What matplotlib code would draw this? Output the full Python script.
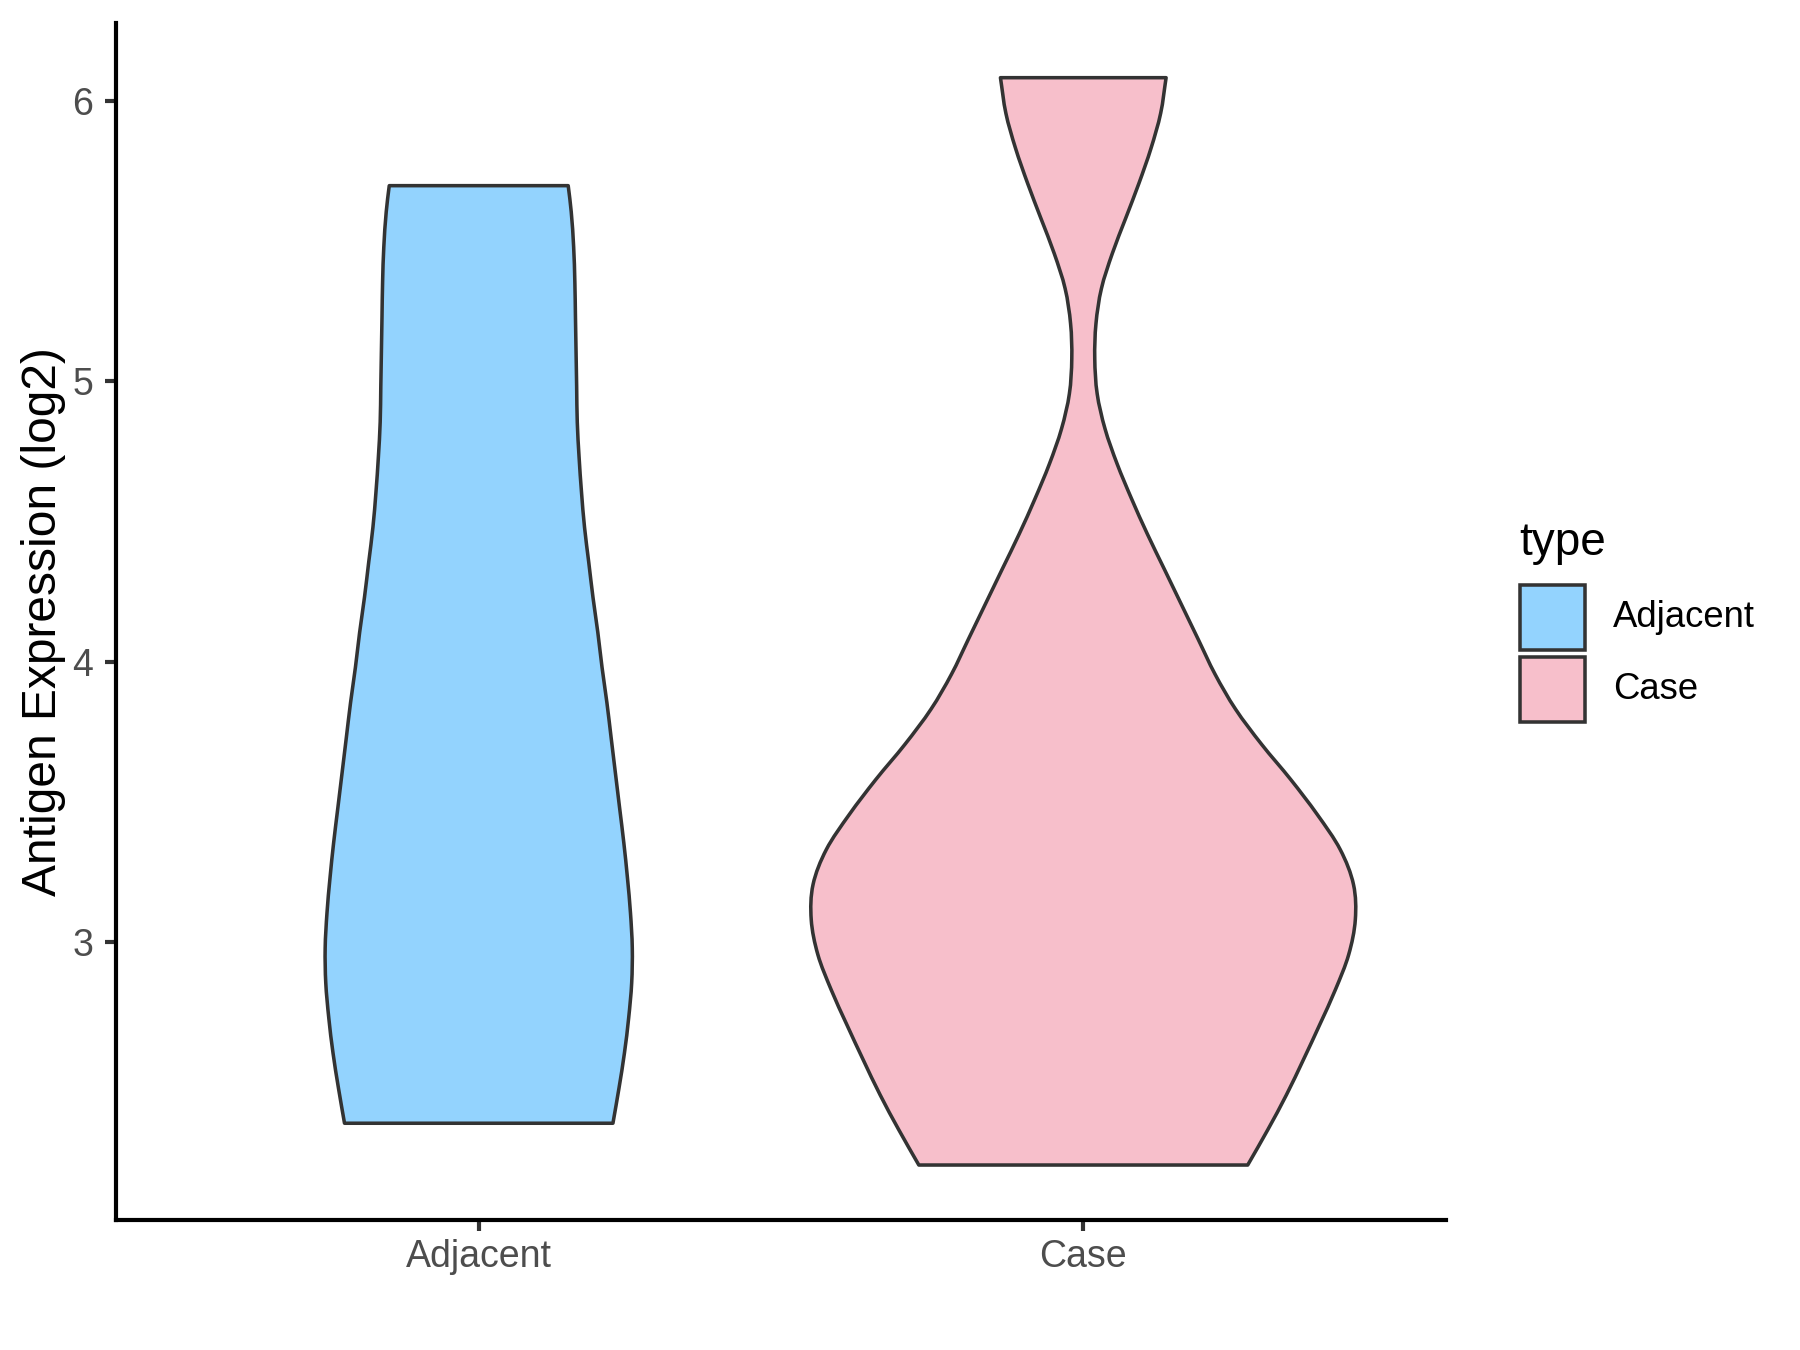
import numpy as np
import matplotlib
matplotlib.use("Agg")
import matplotlib.pyplot as plt
from matplotlib.path import Path
from matplotlib.patches import PathPatch, Rectangle

plt.rcParams['font.family'] = ['Liberation Sans', 'DejaVu Sans']

# ---- data ----
categories = ["Adjacent", "Case"]
fill_colors = ["#93D3FE", "#F7BFCB"]
legend_title = "type"
y_label = "Antigen Expression (log2)"
y_ticks = [3, 4, 5, 6]

# violin profiles: expression level vs. half-width (in x-axis units)
adj_y = [2.354, 2.479, 2.604, 2.729, 2.854, 2.979, 3.104, 3.229, 3.354, 3.479,
         3.604, 3.729, 3.854, 3.979, 4.104, 4.229, 4.354, 4.479, 4.604, 4.729,
         4.854, 4.979, 5.104, 5.229, 5.354, 5.479, 5.604, 5.697]
adj_half = [0.222, 0.232, 0.241, 0.248, 0.253, 0.254, 0.251, 0.246, 0.240, 0.233,
            0.226, 0.219, 0.212, 0.204, 0.197, 0.189, 0.182, 0.175, 0.170, 0.166,
            0.163, 0.162, 0.161, 0.160, 0.159, 0.157, 0.153, 0.148]

case_y = [2.205, 2.330, 2.455, 2.580, 2.705, 2.830, 2.955, 3.080, 3.205, 3.330,
          3.455, 3.580, 3.705, 3.830, 3.955, 4.080, 4.205, 4.330, 4.455, 4.580,
          4.705, 4.830, 4.955, 5.080, 5.205, 5.330, 5.455, 5.580, 5.705, 5.830,
          5.955, 6.082]
case_half = [0.272, 0.305, 0.336, 0.364, 0.391, 0.417, 0.439, 0.450, 0.447, 0.425,
             0.387, 0.343, 0.295, 0.252, 0.218, 0.190, 0.162, 0.134, 0.106, 0.080,
             0.056, 0.036, 0.023, 0.019, 0.021, 0.030, 0.048, 0.070, 0.092, 0.112,
             0.128, 0.137]

profiles = [(adj_y, adj_half), (case_y, case_half)]


def hermite_side(ys, xs):
    """Smooth curve x(y) through the points as cubic Bezier segments."""
    ys = np.asarray(ys, float)
    xs = np.asarray(xs, float)
    n = len(ys)
    m = np.empty(n)
    for i in range(n):
        a = max(i - 1, 0)
        b = min(i + 1, n - 1)
        m[i] = (xs[b] - xs[a]) / (ys[b] - ys[a])
    verts, codes = [], []
    for i in range(n - 1):
        h = ys[i + 1] - ys[i]
        verts += [(xs[i] + m[i] * h / 3, ys[i] + h / 3),
                  (xs[i + 1] - m[i + 1] * h / 3, ys[i + 1] - h / 3),
                  (xs[i + 1], ys[i + 1])]
        codes += [Path.CURVE4] * 3
    return verts, codes


def violin_path(center, ys, halfs):
    ys = np.asarray(ys, float)
    hs = np.asarray(halfs, float)
    verts = [(center + hs[0], ys[0])]
    codes = [Path.MOVETO]
    v, c = hermite_side(ys, center + hs)                 # right side, upwards
    verts += v; codes += c
    verts.append((center - hs[-1], ys[-1])); codes.append(Path.LINETO)  # flat top
    v, c = hermite_side(ys[::-1], (center - hs)[::-1])   # left side, downwards
    verts += v; codes += c
    verts.append((center + hs[0], ys[0])); codes.append(Path.LINETO)   # flat bottom
    verts.append((center + hs[0], ys[0])); codes.append(Path.CLOSEPOLY)
    return Path(verts, codes)


W, H = 1800, 1350
fig = plt.figure(figsize=(12, 9), dpi=150)
ax = fig.add_axes([116 / W, 130 / H, (1446 - 116) / W, (1220 - 23) / H])

for i, (cat, (ys, hs)) in enumerate(zip(categories, profiles)):
    path = violin_path(i + 1, ys, hs)
    ax.add_patch(PathPatch(path, facecolor=fill_colors[i], edgecolor="#333333",
                           linewidth=1.7, joinstyle="round", zorder=2))

ax.set_xlim(0.4, 2.6)
ax.set_ylim(2.009, 6.277)
ax.set_xticks([1, 2])
ax.set_xticklabels(categories)
ax.set_yticks(y_ticks)
ax.set_yticklabels([str(t) for t in y_ticks])

for s in ["top", "right"]:
    ax.spines[s].set_visible(False)
for s in ["left", "bottom"]:
    ax.spines[s].set_linewidth(2.0)
    ax.spines[s].set_color("black")

ax.tick_params(axis="both", length=5.5, width=2.0, color="#333333",
               labelsize=18, labelcolor="#4D4D4D")
ax.tick_params(axis="y", pad=5.5)
ax.tick_params(axis="x", pad=3.5)
ax.set_ylabel(y_label, fontsize=23, color="black", labelpad=3)

# ---- legend (ggplot style, placed in figure pixels) ----
def fx(px):
    return px / W


def fy(py):
    return 1 - py / H


fig.text(fx(1519), fy(555), legend_title, fontsize=22, color="black",
         ha="left", va="baseline")
key_tops = [585, 657]
for i, cat in enumerate(categories):
    top = key_tops[i]
    fig.patches.append(Rectangle((fx(1520), fy(top + 65)), 65 / W, 65 / H,
                                 transform=fig.transFigure, facecolor=fill_colors[i],
                                 edgecolor="#333333", linewidth=1.7))
    fig.text(fx(1613), fy(top + 32.5), cat, fontsize=17.5, color="black",
             ha="left", va="center")

fig.savefig("out.png", dpi=150, facecolor="white")
